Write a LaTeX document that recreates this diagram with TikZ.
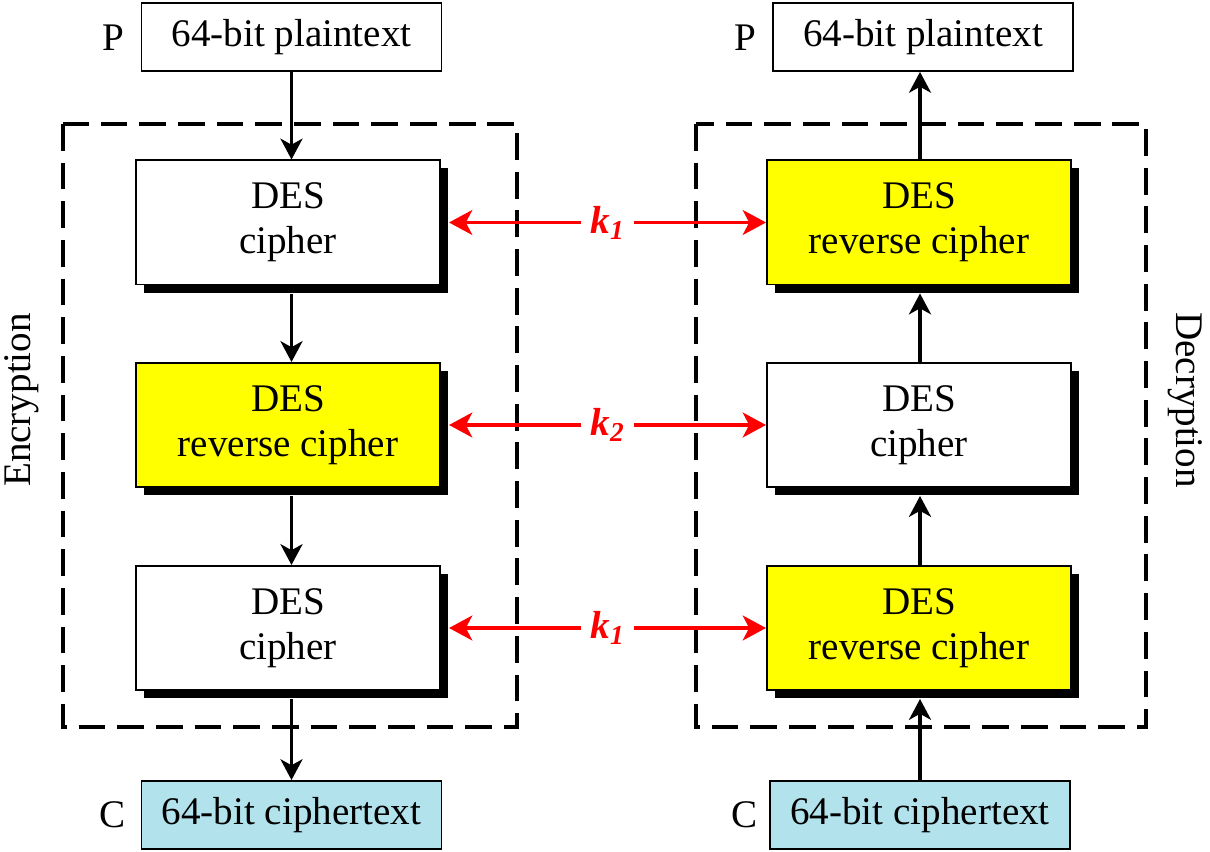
\documentclass[tikz,border=0pt]{standalone}
\usepackage{fontspec}
\setmainfont{Liberation Serif}
\usetikzlibrary{arrows.meta,shadows}
\definecolor{cipherblue}{RGB}{178,226,236}
\definecolor{revyellow}{RGB}{255,255,0}
\begin{document}
\begin{tikzpicture}[x=0.025cm, y=-0.025cm,
  every node/.style={font=\fontsize{27.8}{32}\selectfont},
  desbox/.style={draw, line width=1.4pt, fill=white, minimum width=7.6cm, minimum height=3.1cm,
    align=center, inner sep=0pt,
    drop shadow={shadow xshift=0.2cm, shadow yshift=-0.2cm, fill=black, opacity=1}},
  revbox/.style={desbox, fill=revyellow},
  textbox/.style={draw, line width=1.3pt, fill=white, minimum width=7.5cm, minimum height=1.7cm, inner sep=0pt},
  cipherbox/.style={textbox, fill=cipherblue},
  flow/.style={-{Stealth[length=0.52cm, width=0.55cm, inset=0.15cm]}, line width=2.4pt},
  keyline/.style={{Stealth[length=0.58cm, width=0.62cm, inset=0.16cm]}-{Stealth[length=0.58cm, width=0.62cm, inset=0.16cm]},
    red, line width=2.5pt},
  keylabel/.style={fill=white, text=red, inner xsep=0.25cm, inner ysep=2pt,
    font=\fontsize{27.8}{32}\selectfont\bfseries\itshape},
  frame/.style={line width=2.4pt, dash pattern=on 19pt off 8.5pt}]
  \useasboundingbox (0,0) rectangle (1210,852);
  % dashed frames round the two pipelines
  \draw[frame] (63,124) rectangle (517,727);
  \draw[frame] (696,124) rectangle (1146,727);
  \node[rotate=90] (enc) at (22,400) {Encryption};
  \node[rotate=-90] (dec) at (1185,400) {Decryption};
  % encryption side
  \node[textbox] (p1) at (291.5,37) {64-bit plaintext};
  \node (p1l) at (113,38) {P};
  \node[desbox] (e1) at (288,222.5) {DES\\cipher};
  \node[revbox] (e2) at (288,425) {DES\\reverse cipher};
  \node[desbox] (e3) at (288,628) {DES\\cipher};
  \node[cipherbox] (c1) at (291.5,815) {64-bit ciphertext};
  \node (c1l) at (113,815) {C};
  % decryption side
  \node[textbox] (p2) at (923,37) {64-bit plaintext};
  \node (p2l) at (745,38) {P};
  \node[revbox] (d1) at (919,222.5) {DES\\reverse cipher};
  \node[desbox] (d2) at (919,425) {DES\\cipher};
  \node[revbox] (d3) at (919,628) {DES\\reverse cipher};
  \node[cipherbox] (c2) at (920,815) {64-bit ciphertext};
  \node (c2l) at (745,815) {C};
  % data flow
  \draw[flow] (p1.south) -- (p1.south |- e1.north);
  \draw[flow] ([yshift=-0.2cm]p1.south |- e1.south) -- (p1.south |- e2.north);
  \draw[flow] ([yshift=-0.2cm]p1.south |- e2.south) -- (p1.south |- e3.north);
  \draw[flow] ([yshift=-0.2cm]p1.south |- e3.south) -- (p1.south |- c1.north);
  \draw[flow] (c2.north) -- ([yshift=-0.2cm]c2.north |- d3.south);
  \draw[flow] (c2.north |- d3.north) -- ([yshift=-0.2cm]c2.north |- d2.south);
  \draw[flow] (c2.north |- d2.north) -- ([yshift=-0.2cm]c2.north |- d1.south);
  \draw[flow] (c2.north |- d1.north) -- (c2.north |- p2.south);
  % keys
  \draw[keyline] ([xshift=0.2cm]e1.east) -- node[keylabel] {k\textsubscript{1}} (d1.west);
  \draw[keyline] ([xshift=0.2cm]e2.east) -- node[keylabel] {k\textsubscript{2}} (d2.west);
  \draw[keyline] ([xshift=0.2cm]e3.east) -- node[keylabel] {k\textsubscript{1}} (d3.west);
\end{tikzpicture}
\end{document}
